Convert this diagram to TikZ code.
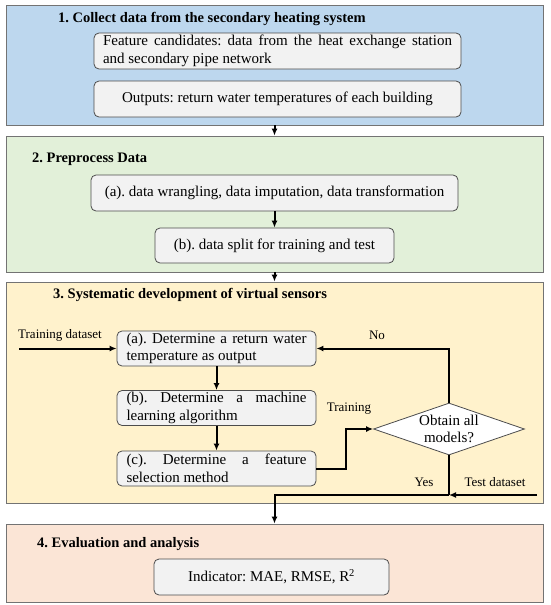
\documentclass[tikz,border=0pt]{standalone}
\usepackage{fontspec}
\setmainfont{Liberation Serif}
\usetikzlibrary{shapes.geometric,arrows.meta}
\definecolor{collectblue}{HTML}{BDD7EE}
\definecolor{prepgreen}{HTML}{E2F0D9}
\definecolor{sensoryellow}{HTML}{FFF2CC}
\definecolor{evalpeach}{HTML}{FBE5D6}
\definecolor{boxgray}{HTML}{F2F2F2}
\frenchspacing
\hyphenpenalty=10000
\begin{document}
\begin{tikzpicture}[x=1pt,y=-1pt,>={Latex[length=7pt,width=6pt]},
  panel/.style={draw=black!55,line width=.8pt,minimum width=537pt,inner sep=0pt},
  stepbox/.style={draw=black!70,fill=boxgray,rounded corners=5pt,line width=.8pt,inner sep=0pt,
    font=\fontsize{15}{17.5}\selectfont},
  head/.style={anchor=west,inner sep=0pt,font=\fontsize{14.5}{17}\selectfont\bfseries},
  lbl/.style={inner sep=0pt,font=\fontsize{13}{15}\selectfont},
  flow/.style={->,line width=2pt}]
  \useasboundingbox (0,0) rectangle (550,605);
  % panels
  \node[panel,fill=collectblue,minimum height=120pt] (p1) at (274.5,65) {};
  \node[panel,fill=prepgreen,minimum height=136pt] (p2) at (274.5,204) {};
  \node[panel,fill=sensoryellow,minimum height=221pt] (p3) at (274.5,392.5) {};
  \node[panel,fill=evalpeach,minimum height=78pt] (p4) at (274.5,563) {};
  \node[head] at (58,19) {1. Collect data from the secondary heating system};
  \node[head] at (32,159) {2. Preprocess Data};
  \node[head] at (53,295) {3. Systematic development of virtual sensors};
  \node[head] at (37,544) {4. Evaluation and analysis};
  % step 1
  \node[stepbox,text width=349pt,align=justify,minimum width=367pt,minimum height=36pt] (feat) at (277.5,51)
    {Feature candidates: data from the heat exchange station\linebreak and secondary pipe network};
  \node[stepbox,align=center,minimum width=367pt,minimum height=36pt] (outp) at (277.5,99)
    {Outputs: return water temperatures of each building};
  % step 2
  \node[stepbox,align=center,minimum width=367pt,minimum height=36pt] (wrang) at (274.5,193)
    {(a). data wrangling, data imputation, data transformation};
  \node[stepbox,align=center,minimum width=239pt,minimum height=35pt] (split) at (274.5,245.5)
    {(b). data split for training and test};
  % step 3
  \node[stepbox,text width=180pt,align=justify,minimum width=199pt,minimum height=35pt] (outsel) at (216.5,348.5)
    {(a). Determine a return water temperature as output};
  \node[stepbox,text width=180pt,align=justify,minimum width=199pt,minimum height=35pt] (algsel) at (216.5,408)
    {(b). Determine a machine learning algorithm};
  \node[stepbox,text width=180pt,align=justify,minimum width=199pt,minimum height=35pt] (featsel) at (216.5,468.5)
    {(c). Determine a feature selection method};
  \node[diamond,aspect=2.9,draw=black!70,fill=white,line width=.8pt,inner sep=0pt,
    minimum width=151pt,minimum height=52pt,align=center,font=\fontsize{15}{17}\selectfont] (done) at (449,429)
    {Obtain all\\models?};
  \coordinate (trin) at (19,348.5);
  \coordinate (tsin) at (537,495);
  \coordinate (join) at (449,495);
  \node[lbl] at (60,335) {Training dataset};
  \node[lbl] at (377,335) {No};
  \node[lbl] at (349,409) {Training};
  \node[lbl] at (424,482) {Yes};
  \node[lbl] at (495,482) {Test dataset};
  % step 4
  \node[stepbox,align=center,minimum width=235pt,minimum height=36pt] (indic) at (271.5,577)
    {Indicator: MAE, RMSE, R\textsuperscript{2}};
  % connectors
  \draw[flow] (p1.south) -- (p2.north);
  \draw[flow] (p2.south) -- (p3.north);
  \draw[flow] (wrang) -- (split);
  \draw[flow] (trin) -- (outsel.west);
  \draw[flow] (outsel) -- (algsel);
  \draw[flow] (algsel) -- (featsel);
  \draw[flow] (featsel.east) -- ++(30,0) |- (done.west);
  \draw[flow] (done.north) |- (outsel.east);
  \draw[line width=2pt] (done.south) -- (join);
  \draw[flow] (tsin) -- (join);
  \draw[flow] (join) -| (p4.north);
\end{tikzpicture}
\end{document}
